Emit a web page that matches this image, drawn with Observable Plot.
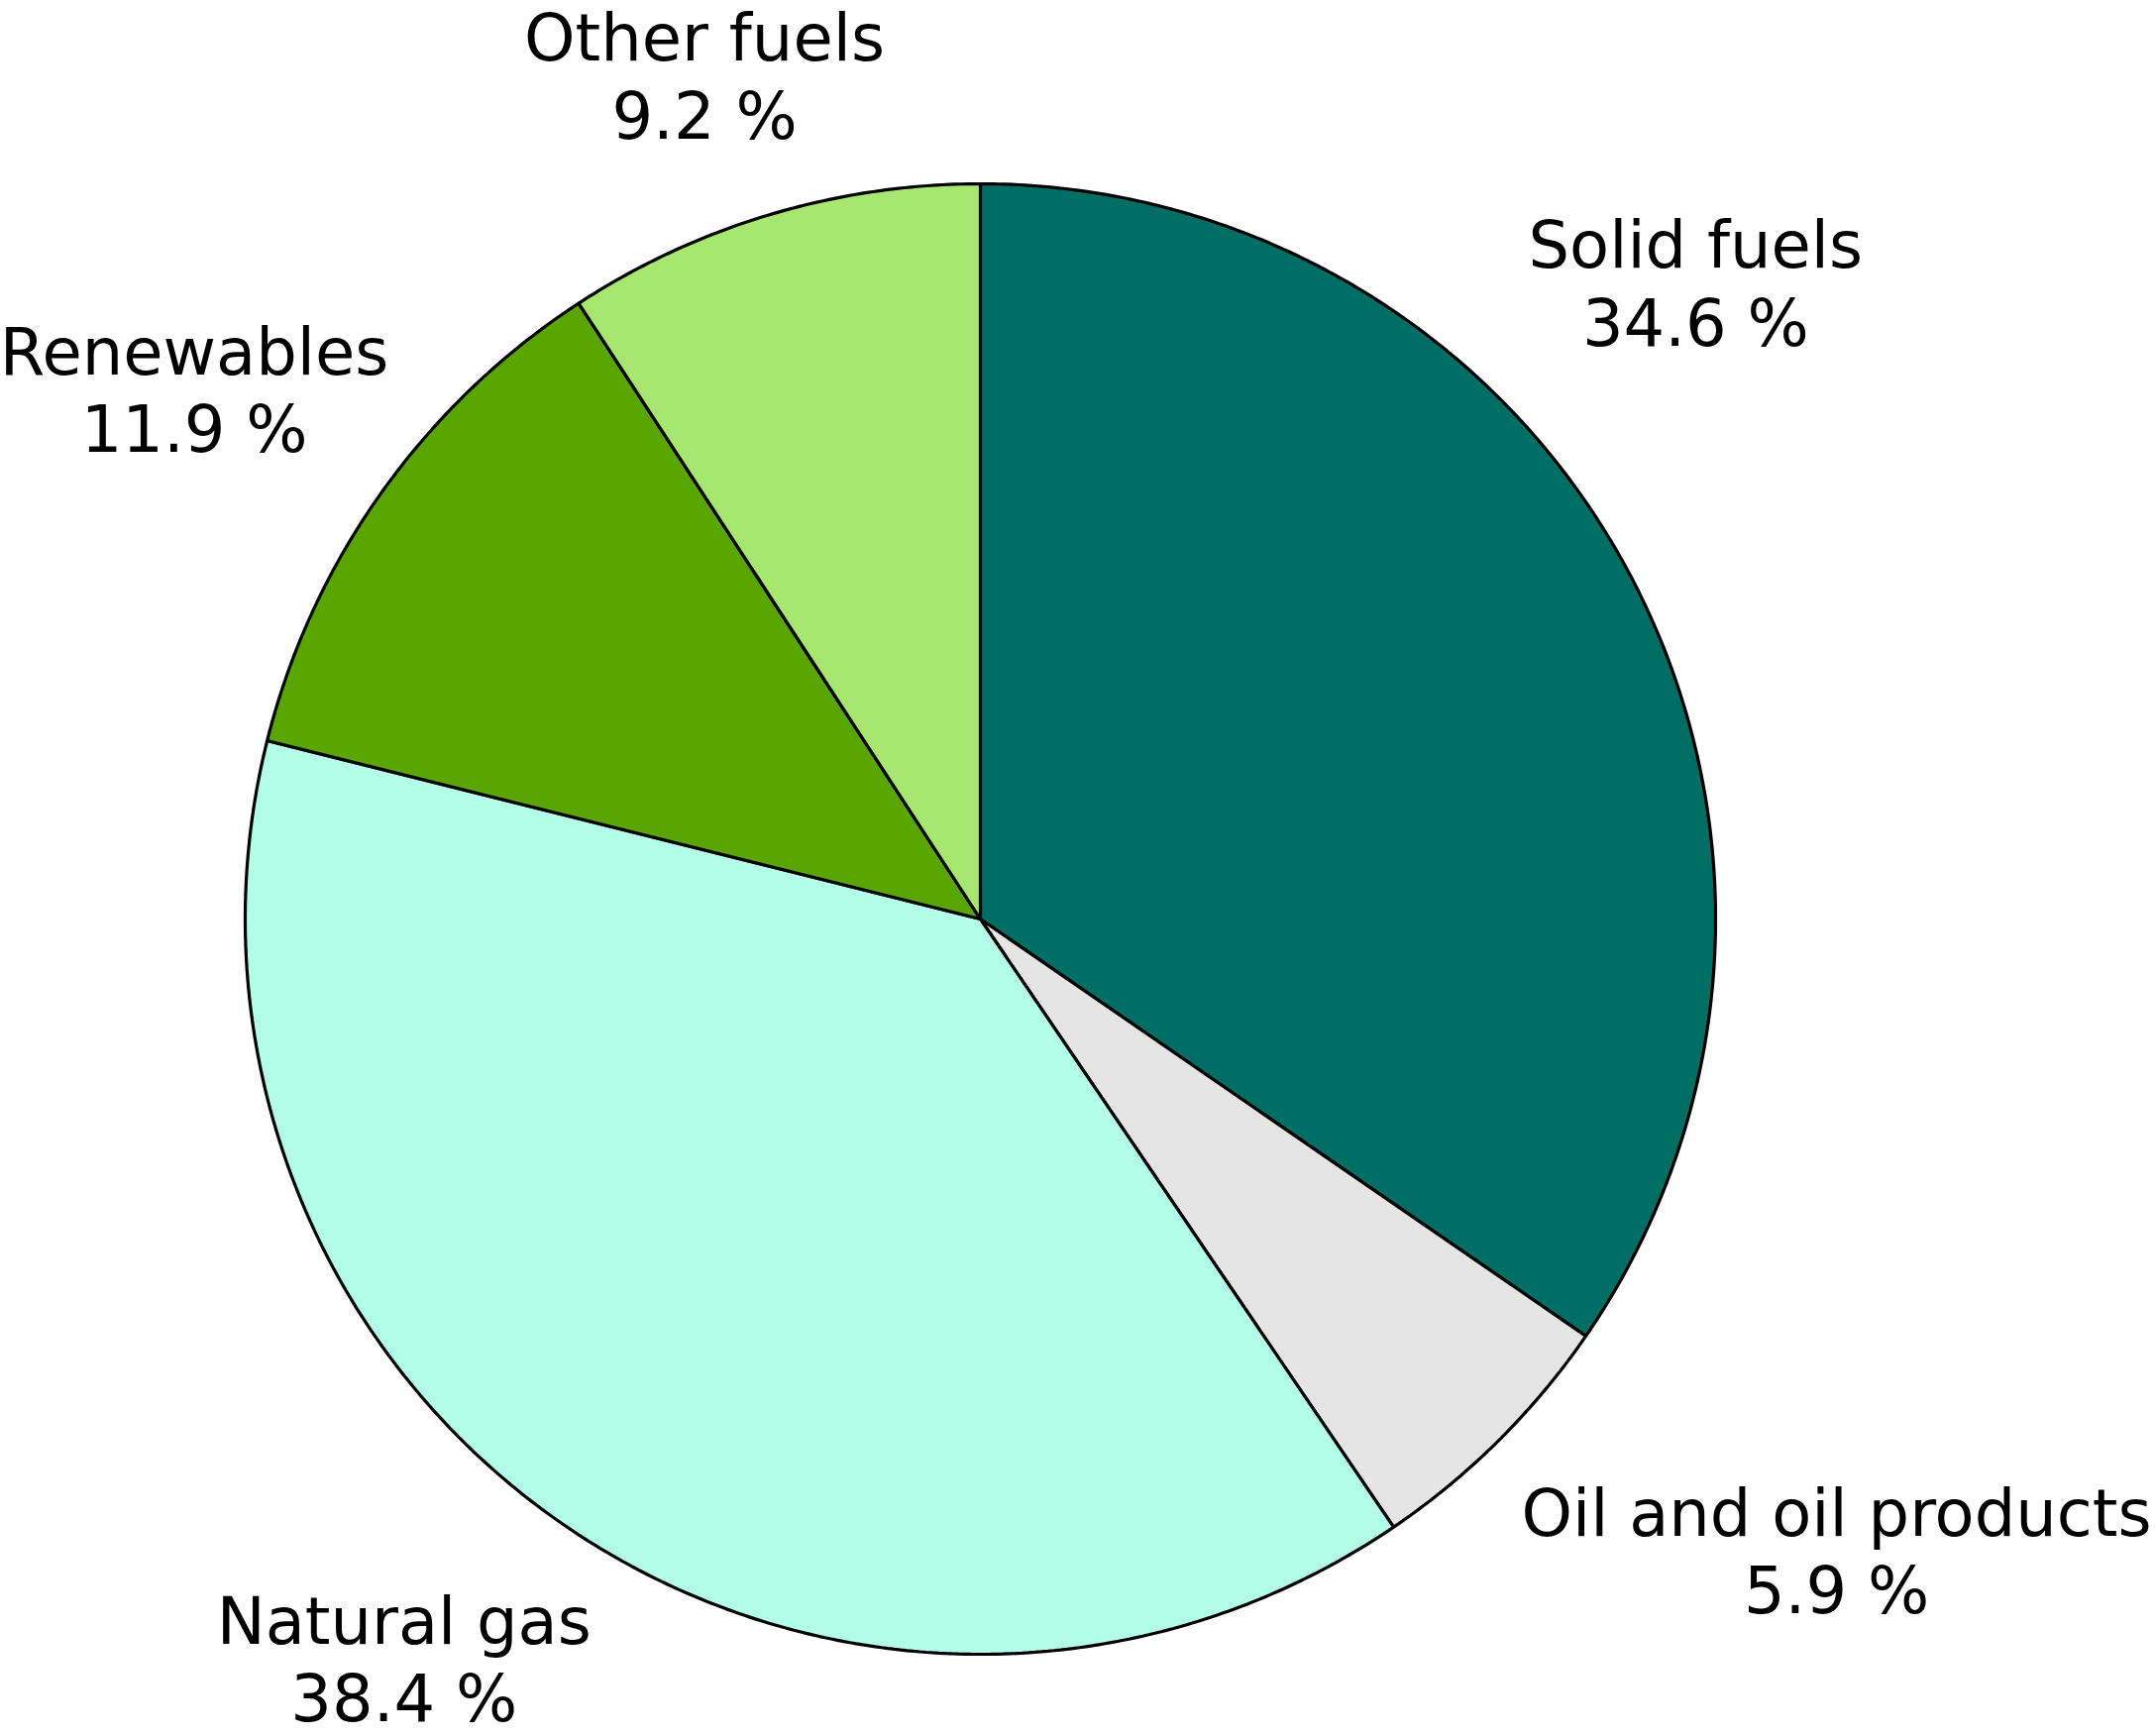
<!DOCTYPE html>
<html>
<head>
<meta charset="utf-8">
<script src="https://cdn.jsdelivr.net/npm/d3@7"></script>
<script src="https://cdn.jsdelivr.net/npm/@observablehq/plot@0.6"></script>
<style>
  html, body { margin: 0; padding: 0; background: #ffffff; }
  #chart svg { display: block; }
</style>
</head>
<body>
<div id="chart"></div>
<script>
// ---- Data ----
const categories = ["Solid fuels", "Oil and oil products", "Natural gas", "Renewables", "Other fuels"];
const shares = [34.6, 5.9, 38.4, 11.9, 9.2];
const colors = ["#006e64", "#e5e5e5", "#b3fde8", "#5aa600", "#a8e672"];

// ---- Layout (not data) ----
const W = 2175, H = 1752;
const CX = 989, CY = 927, R = 742;       // pie centre and radius in pixels
const FS = 65.5, LH = 78.5 / 65.5;       // label font size, line height
// pixel nudges of each label from the slice mid-angle point on the rim
const labelNudge = {
  "Solid fuels": [65, -298],
  "Oil and oil products": [341, 110],
  "Natural gas": [-157, 137],
  "Renewables": [-189, -105],
  "Other fuels": [-67, -141]
};

// ---- Build slice polygons (angle measured clockwise from 12 o'clock) ----
const total = d3.sum(shares);
const slices = [];
const labels = [];
let cum = 0;
categories.forEach((name, i) => {
  const a0 = (cum / total) * 2 * Math.PI;
  cum += shares[i];
  const a1 = (cum / total) * 2 * Math.PI;
  const n = Math.max(2, Math.ceil((a1 - a0) / (Math.PI / 360)));
  slices.push({name, px: 0, py: 0, k: 0});
  for (let j = 0; j <= n; ++j) {
    const a = a0 + (a1 - a0) * j / n;
    slices.push({name, px: Math.sin(a), py: Math.cos(a), k: j + 1});
  }
  const m = (a0 + a1) / 2;
  const [ndx, ndy] = labelNudge[name];
  labels.push({
    name,
    text: `${name}\n${shares[i].toFixed(1)} %`,
    lx: Math.sin(m) + ndx / R,
    ly: Math.cos(m) - ndy / R
  });
});

const chart = Plot.plot({
  width: W,
  height: H,
  margin: 0,
  style: {fontFamily: "'DejaVu Sans', Verdana, sans-serif", background: "#ffffff"},
  x: {domain: [-1, 1], range: [CX - R, CX + R], axis: null},
  y: {domain: [-1, 1], range: [CY + R, CY - R], axis: null},
  color: {domain: categories, range: colors},
  marks: [
    Plot.line(slices, {
      x: "px", y: "py", z: "name", fill: "name",
      stroke: "#000000", strokeWidth: 3.2, strokeLinejoin: "miter",
      curve: "linear-closed"
    }),
    Plot.text(labels, {
      x: "lx", y: "ly", text: "text",
      fontSize: FS, lineHeight: LH, lineAnchor: "middle", textAnchor: "middle",
      fill: "#000000"
    })
  ]
});
document.getElementById("chart").appendChild(chart);
</script>
</body>
</html>
